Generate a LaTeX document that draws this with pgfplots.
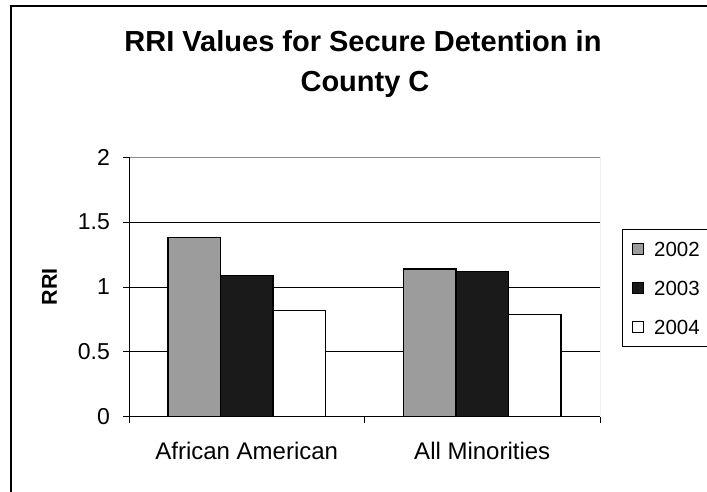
\documentclass[border=0pt]{standalone}
\usepackage{fontspec}
\setmainfont{Liberation Sans}
\usepackage{pgfplots}
\pgfplotsset{compat=1.18}

\definecolor{bar02}{HTML}{9C9C9C}
\definecolor{bar03}{HTML}{1A1A1A}
\definecolor{plotborder}{HTML}{8A8A8A}

\begin{document}
\begin{tikzpicture}[x=1bp,y=1bp]
\useasboundingbox (0,0) rectangle (707,492);
\begin{scope}
\clip (0,0) rectangle (707,492);
% chart frame
\draw[line width=1.6bp] (11,-20) -- (11,486) -- (740,486);
% title
\node[font=\bfseries\fontsize{29bp}{34bp}\selectfont, anchor=base, inner sep=0pt]
  at (363,440.3) {RRI Values for Secure Detention in};
\node[font=\bfseries\fontsize{29bp}{34bp}\selectfont, anchor=base, inner sep=0pt]
  at (365,400.3) {County C};

\begin{axis}[
  at={(129bp,75.3bp)}, anchor=south west,
  scale only axis, width=471bp, height=259.4bp,
  xmin=-0.5, xmax=1.5, ymin=0, ymax=2,
  ybar=0pt, bar width=52.5bp,
  xtick={-0.5,0.5,1.5}, xticklabels={},
  extra x ticks={0,1},
  extra x tick labels={African American, All Minorities},
  extra x tick style={major tick length=0pt,
    xticklabel style={anchor=base, inner sep=0pt, yshift=-42.6bp,
      font=\fontsize{24bp}{28bp}\selectfont}},
  ytick={0,0.5,1,1.5,2},
  yticklabel style={font=\fontsize{23bp}{27bp}\selectfont, inner sep=0pt, xshift=-13bp},
  /pgf/number format/assume math mode=true,
  tick align=outside, xtick pos=bottom, ytick pos=left,
  major tick length=6bp,
  tick style={black, line width=0.8bp},
  ymajorgrids, grid style={black, line width=0.8bp},
  axis line style={draw=none},
  ylabel={RRI},
  every axis y label/.style={at={(axis description cs:-0.169,0.5)}, rotate=90,
    anchor=center, font=\bfseries\fontsize{21.5bp}{25bp}\selectfont},
  legend image code/.code={\draw[#1, line width=1bp] (0bp,-5.5bp) rectangle (11bp,5.5bp);},
  legend cell align=left,
  legend style={at={(axis description cs:1.0467,0.7236)}, anchor=north west,
    draw=black, line width=0.8bp, inner ysep=0pt, inner xsep=9.7bp,
    column sep=10bp,
    font=\fontsize{20.5bp}{24bp}\selectfont,
    nodes={inner sep=0pt, text height=27bp, text depth=12bp}},
]
\addplot[fill=bar02, draw=black, line width=1.4bp] coordinates {(0,1.38) (1,1.14)};
\addplot[fill=bar03, draw=black, line width=1.4bp] coordinates {(0,1.09) (1,1.12)};
\addplot[fill=white, draw=black, line width=1.4bp] coordinates {(0,0.82) (1,0.79)};
\legend{2002,2003,2004}
% plot area border and axis lines
\draw[plotborder, line width=0.8bp] (rel axis cs:0,1) -- (rel axis cs:1,1) -- (rel axis cs:1,0);
\draw[black, line width=1.2bp] (rel axis cs:0,1) -- (rel axis cs:0,0) -- (rel axis cs:1,0);
\end{axis}
\end{scope}
\end{tikzpicture}
\end{document}
